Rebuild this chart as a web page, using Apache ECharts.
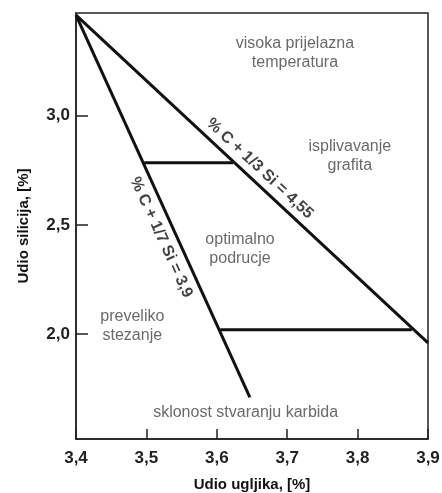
<!DOCTYPE html>
<html><head><meta charset="utf-8">
<script src="https://cdn.jsdelivr.net/npm/echarts@6/dist/echarts.min.js"></script>
<style>html,body{margin:0;padding:0;background:#fff}#c{width:442px;height:493px}</style>
</head><body><div id="c"></div>
<script>
const xTicks = [3.4, 3.5, 3.6, 3.7, 3.8, 3.9];
const yTicks = [2.0, 2.5, 3.0];
const line13 = [[3.4, 3.46], [3.9, 1.96]];
const line17 = [[3.4, 3.46], [3.647, 1.71]];
const upperBound = [[3.497, 2.785], [3.623, 2.785]];
const lowerBound = [[3.605, 2.02], [3.877, 2.02]];
const regionLabels = [
  {name: 'visoka prijelazna\ntemperatura', value: [3.711, 3.285]},
  {name: 'isplivavanje\ngrafita', value: [3.789, 2.817]},
  {name: 'optimalno\npodrucje', value: [3.633, 2.388]},
  {name: 'preveliko\nstezanje', value: [3.48, 2.037]},
  {name: 'sklonost stvaranju karbida', value: [3.641, 1.639]}
];
const lineLabels = [
  {name: '% C + 1/3 Si = 4,55', value: [3.661, 2.758], rot: -43},
  {name: '% C + 1/7 Si = 3,9', value: [3.521, 2.443], rot: -65.5}
];
const fmt = v => v.toFixed(1).replace('.', ',');
const chart = echarts.init(document.getElementById('c'));
const lineStyle = {color: '#111', width: 3};
const mkLine = d => ({type: 'line', data: d, symbol: 'none', lineStyle, silent: true, z: 3});
chart.setOption({
  animation: false,
  grid: {left: 76, right: 14, top: 13, bottom: 54, show: true, borderColor: '#222', borderWidth: 1.5, containLabel: false, outerBoundsMode: 'none'},
  xAxis: {
    type: 'value', min: 3.4, max: 3.9, interval: 0.1,
    name: 'Udio ugljika, [%]', nameLocation: 'middle', nameGap: 38,
    nameTextStyle: {fontFamily: 'Liberation Sans', fontWeight: 'bold', fontSize: 15, color: '#111'},
    axisLine: {lineStyle: {color: '#222', width: 1.5}},
    axisTick: {inside: true, length: 10, lineStyle: {color: '#222', width: 1.5}},
    axisLabel: {formatter: fmt, fontFamily: 'Liberation Sans', fontWeight: 'bold', fontSize: 17, color: '#222', margin: 11},
    splitLine: {show: false}
  },
  yAxis: {
    type: 'value', min: 1.52, max: 3.47,
    name: 'Udio silicija, [%]', nameLocation: 'middle', nameGap: 45, nameRotate: 90,
    nameTextStyle: {fontFamily: 'Liberation Sans', fontWeight: 'bold', fontSize: 15, color: '#111'},
    axisLine: {show: true, lineStyle: {color: '#222', width: 1.5}},
    axisTick: {inside: true, length: 12, customValues: yTicks, lineStyle: {color: '#222', width: 1.5}},
    axisLabel: {customValues: yTicks, formatter: fmt, fontFamily: 'Liberation Sans', fontWeight: 'bold', fontSize: 17, color: '#222', margin: 6},
    splitLine: {show: false}
  },
  series: [
    mkLine(line13), mkLine(line17), mkLine(upperBound), mkLine(lowerBound),
    {
      type: 'scatter', symbolSize: 0, silent: true, z: 5,
      data: regionLabels,
      label: {show: true, position: 'inside', formatter: p => p.name, fontFamily: 'Liberation Sans', fontSize: 16, color: '#444', lineHeight: 19, align: 'center', verticalAlign: 'middle'}
    },
    {
      type: 'scatter', symbolSize: 0, silent: true, z: 5,
      data: lineLabels.map(d => ({name: d.name, value: d.value, label: {rotate: d.rot}})),
      label: {show: true, position: 'inside', formatter: p => p.name, fontFamily: 'Liberation Sans', fontWeight: 'bold', fontSize: 16, color: '#111', align: 'center', verticalAlign: 'middle'}
    }
  ]
});
</script></body></html>
